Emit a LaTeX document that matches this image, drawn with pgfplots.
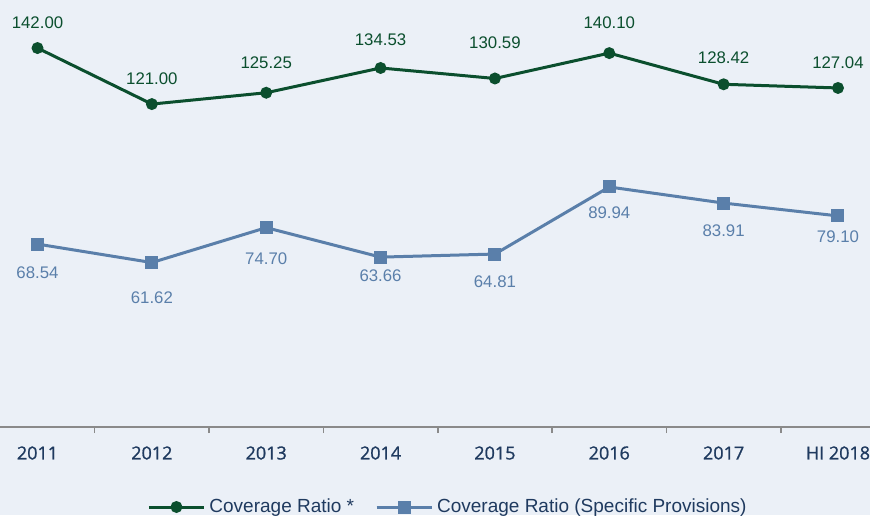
\documentclass[border=0pt]{standalone}
\usepackage{fontspec}
\setmainfont{Liberation Sans}
\newfontfamily\tickfont[RawFeature={embolden=1}]{Open Sans}
\usepackage{pgfplots}
\pgfplotsset{compat=1.18}
\usepackage{pgfplotstable}
\definecolor{bg}{HTML}{EBF0F7}
\definecolor{cgreen}{HTML}{0B4F2E}
\definecolor{cblue}{HTML}{5A7FAA}
\definecolor{navy}{HTML}{1F3A5F}
\definecolor{axgray}{HTML}{8A8A8A}

\pgfplotstableread{
x y off lab
0 142.00 12.5 142.00
1 121.00 12.5 121.00
2 125.25 15 125.25
3 134.53 14 134.53
4 130.59 18 130.59
5 140.10 15 140.10
6 128.42 13.5 128.42
7 127.04 12.5 127.04
}\greendata

\pgfplotstableread{
x y off lab
0 68.54 -14.5 68.54
1 61.62 -17.5 61.62
2 74.70 -15.5 74.70
3 63.66 -9.5 63.66
4 64.81 -14 64.81
5 89.94 -13 89.94
6 83.91 -14 83.91
7 79.10 -10.5 79.10
}\bluedata

\begin{document}
\begin{tikzpicture}
\fill[bg] (0,-44pt) rectangle (435pt,213.5pt);
\begin{axis}[
  at={(0,0)}, anchor=south west,
  scale only axis,
  width=435pt, height=213.5pt,
  xmin=-0.328, xmax=7.28,
  ymin=0, ymax=160,
  axis x line*=bottom,
  axis y line=none,
  x axis line style={axgray, line width=1pt},
  xtick={0.5,1.5,...,6.5},
  xticklabels={},
  tick align=outside,
  major tick length=3pt,
  x tick style={axgray, line width=0.8pt},
  extra x ticks={0,1,2,3,4,5,6,7},
  extra x tick labels={2011,2012,2013,2014,2015,2016,2017,HI 2018},
  extra x tick style={major tick length=0pt, xticklabel style={anchor=center, yshift=-13pt}},
  xticklabel style={font=\tickfont\fontsize{9}{10}\selectfont, text=navy},
  ytick=\empty,
  clip=false,
  legend columns=2,
  legend style={draw=none, fill=none, at={(224.5pt,-40pt)}, anchor=center,
    font=\fontsize{9.5}{10}\selectfont, text=navy,
    /tikz/every even column/.append style={column sep=8.5pt},
    cells={anchor=west, inner xsep=1pt}, inner sep=0pt},
  legend image code/.code={\draw[mark repeat=2,mark phase=2] plot coordinates {(0pt,0pt)(13.75pt,0pt)(27.5pt,0pt)};},
  nodes near coords={\pgfplotspointmeta},
  point meta=explicit symbolic,
  visualization depends on={\thisrow{off} \as \myoff},
  every node near coord/.append style={anchor=center, yshift=\myoff pt, font=\fontsize{8.4}{10}\selectfont},
]
\addplot[cgreen, line width=1.5pt, mark=*, mark size=2.2pt, every node near coord/.append style={text=cgreen}]
  table[x=x, y=y, meta=lab] {\greendata};
\addlegendentry{Coverage Ratio *}
\addplot[cblue, line width=1.5pt, mark=square*, mark size=2.5pt, every node near coord/.append style={text=cblue}]
  table[x=x, y=y, meta=lab] {\bluedata};
\addlegendentry{Coverage Ratio (Specific Provisions)}
\end{axis}
\pgfresetboundingbox
\path[use as bounding box] (0,-44pt) rectangle (435pt,213.5pt);
\end{tikzpicture}
\end{document}
